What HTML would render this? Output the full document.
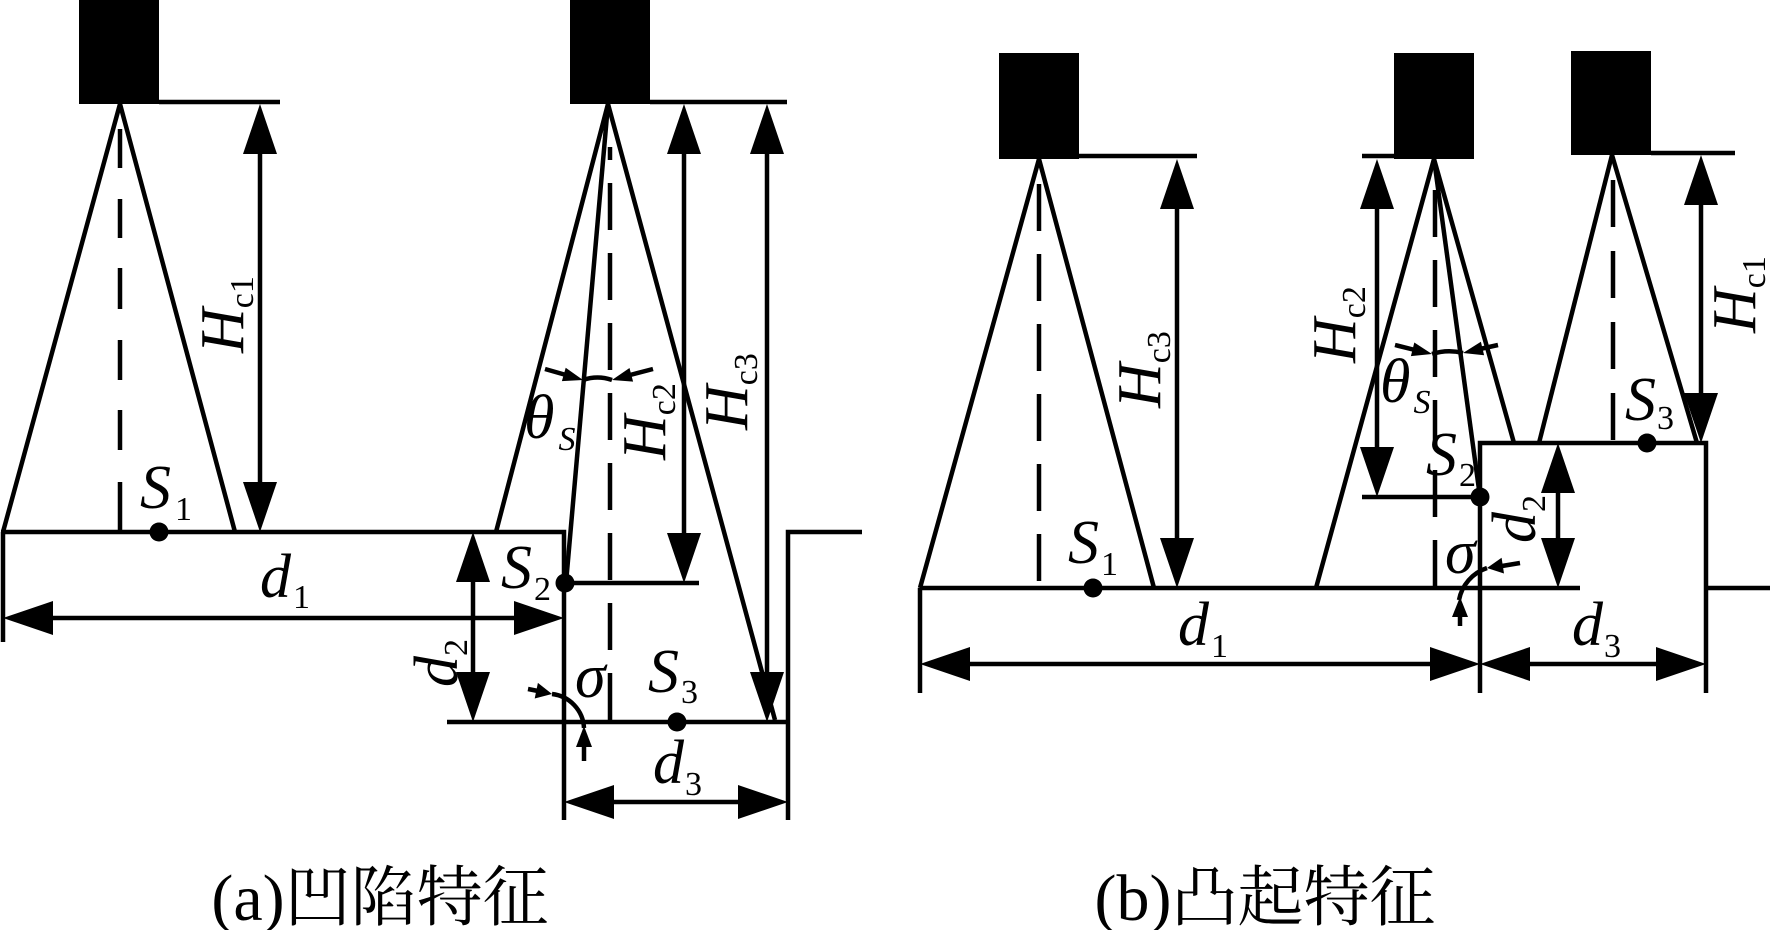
<!DOCTYPE html>
<html>
<head>
<meta charset="utf-8">
<style>
  html,body{margin:0;padding:0;background:#fff;}
  svg{display:block;}
  .l{stroke:#000;stroke-width:4.5;fill:none;stroke-linecap:butt;stroke-linejoin:miter;}
  .t{font-family:"Liberation Serif","Noto Serif CJK SC",serif;fill:#000;}
</style>
</head>
<body>
<svg width="1770" height="930" viewBox="0 0 1770 930" xmlns="http://www.w3.org/2000/svg">
<rect width="1770" height="930" fill="#fff"/>

<!-- ================= PANEL (a) ================= -->
<!-- sensors -->
<rect x="79" y="0" width="80" height="104" fill="#000"/>
<rect x="570" y="0" width="80" height="104" fill="#000"/>
<line class="l" x1="159" y1="102" x2="280" y2="102"/>
<line class="l" x1="650" y1="102" x2="787" y2="102"/>

<!-- cone 1 -->
<line class="l" x1="120" y1="104" x2="3" y2="532"/>
<line class="l" x1="120" y1="104" x2="235" y2="532"/>
<g class="l">
  <line x1="120" y1="129" x2="120" y2="168"/>
  <line x1="120" y1="199" x2="120" y2="238"/>
  <line x1="120" y1="268" x2="120" y2="309"/>
  <line x1="120" y1="340" x2="120" y2="380"/>
  <line x1="120" y1="410" x2="120" y2="450"/>
  <line x1="120" y1="482" x2="120" y2="532"/>
</g>

<!-- cone 2 -->
<line class="l" x1="608" y1="104" x2="496" y2="532"/>
<line class="l" x1="608" y1="104" x2="566" y2="583"/>
<line class="l" x1="608" y1="104" x2="775" y2="720"/>
<line class="l" x1="610" y1="147" x2="610" y2="722" stroke-dasharray="47 23" stroke-dashoffset="34"/>

<!-- ground profile -->
<polyline class="l" points="1,532 564,532 564,820"/>
<polyline class="l" points="788,820 788,532 862,532"/>
<line class="l" x1="447" y1="722" x2="788" y2="722"/>
<line class="l" x1="564" y1="583" x2="699" y2="583"/>
<line class="l" x1="3" y1="532" x2="3" y2="642"/>

<!-- H_c1 arrow -->
<line class="l" x1="260" y1="140" x2="260" y2="500"/>
<polygon points="260,104 243,154 277,154" fill="#000"/>
<polygon points="260,532 243,482 277,482" fill="#000"/>
<!-- H_c2 arrow -->
<line class="l" x1="684" y1="140" x2="684" y2="550"/>
<polygon points="684,104 667,154 701,154" fill="#000"/>
<polygon points="684,583 667,533 701,533" fill="#000"/>
<!-- H_c3 arrow -->
<line class="l" x1="767" y1="140" x2="767" y2="690"/>
<polygon points="767,104 750,154 784,154" fill="#000"/>
<polygon points="767,722 750,672 784,672" fill="#000"/>
<!-- d2 arrow -->
<line class="l" x1="473" y1="570" x2="473" y2="690"/>
<polygon points="473,532 456,582 490,582" fill="#000"/>
<polygon points="473,722 456,672 490,672" fill="#000"/>
<!-- d1 arrow -->
<line class="l" x1="40" y1="618" x2="530" y2="618"/>
<polygon points="3,618 53,601 53,635" fill="#000"/>
<polygon points="564,618 514,601 514,635" fill="#000"/>
<!-- d3 arrow -->
<line class="l" x1="600" y1="802" x2="750" y2="802"/>
<polygon points="564,802 614,785 614,819" fill="#000"/>
<polygon points="788,802 738,785 738,819" fill="#000"/>

<!-- theta_s arrows (a) -->
<line class="l" x1="545" y1="369" x2="566" y2="375"/>
<polygon points="583,380 561.9,381.1 565.7,367.7" fill="#000"/>
<line class="l" x1="653" y1="369" x2="630" y2="375"/>
<polygon points="612,380 629.5,368 633.1,381.6" fill="#000"/>
<path class="l" d="M583,380 Q597.5,375 612,380"/>

<!-- sigma (a) -->
<line class="l" x1="528" y1="689" x2="538" y2="691"/>
<polygon points="552,694 534.7,698.5 537.9,682.9" fill="#000"/>
<path class="l" d="M552,694 A36,36 0 0 1 584,728"/>
<polygon points="584,726 576,747 592,747" fill="#000"/>
<line class="l" x1="584" y1="745" x2="584" y2="761"/>

<!-- dots (a) -->
<circle cx="159" cy="532" r="9.5" fill="#000"/>
<circle cx="565" cy="583" r="9.5" fill="#000"/>
<circle cx="677" cy="722" r="9.5" fill="#000"/>

<!-- labels (a) -->
<text class="t" transform="translate(243,353) rotate(-90)" font-size="62" font-style="italic">H<tspan font-size="34" font-style="normal" dy="10">c1</tspan></text>
<text class="t" transform="translate(665,460) rotate(-90)" font-size="62" font-style="italic">H<tspan font-size="34" font-style="normal" dy="10">c2</tspan></text>
<text class="t" transform="translate(747,430) rotate(-90)" font-size="62" font-style="italic">H<tspan font-size="34" font-style="normal" dy="10">c3</tspan></text>
<text class="t" transform="translate(457,687) rotate(-90)" font-size="62" font-style="italic">d<tspan font-size="34" font-style="normal" dy="10">2</tspan></text>

<text class="t" x="140" y="508" font-size="62" font-style="italic">S<tspan font-size="34" font-style="normal" dx="4" dy="12">1</tspan></text>
<text class="t" x="501" y="588" font-size="62" font-style="italic">S<tspan font-size="34" font-style="normal" dx="2" dy="12">2</tspan></text>
<text class="t" x="648" y="692" font-size="62" font-style="italic">S<tspan font-size="34" font-style="normal" dx="2" dy="11">3</tspan></text>
<text class="t" x="260" y="597" font-size="62" font-style="italic">d<tspan font-size="34" font-style="normal" dx="2" dy="11">1</tspan></text>
<text class="t" x="653" y="783" font-size="62" font-style="italic">d<tspan font-size="34" font-style="normal" dx="1" dy="12">3</tspan></text>
<text class="t" x="575" y="697" font-size="62" font-style="italic">σ</text>
<text class="t" x="524" y="438" font-size="62" font-style="italic">θ<tspan font-size="34" dx="4" dy="12">S</tspan></text>

<!-- ================= PANEL (b) ================= -->
<rect x="999" y="53" width="80" height="106" fill="#000"/>
<rect x="1394" y="53" width="80" height="106" fill="#000"/>
<rect x="1571" y="51" width="80" height="104" fill="#000"/>
<line class="l" x1="1079" y1="156" x2="1197" y2="156"/>
<line class="l" x1="1362" y1="156" x2="1394" y2="156"/>
<line class="l" x1="1651" y1="153" x2="1735" y2="153"/>

<!-- cones -->
<line class="l" x1="1039" y1="159" x2="920" y2="588"/>
<line class="l" x1="1039" y1="159" x2="1154" y2="588"/>
<line class="l" x1="1039" y1="184" x2="1039" y2="588" stroke-dasharray="47 23"/>

<line class="l" x1="1434" y1="159" x2="1316" y2="588"/>
<line class="l" x1="1434" y1="159" x2="1480" y2="497"/>
<line class="l" x1="1434" y1="159" x2="1514" y2="443"/>
<line class="l" x1="1435" y1="190" x2="1435" y2="588" stroke-dasharray="47 23"/>

<line class="l" x1="1612" y1="155" x2="1539" y2="443"/>
<line class="l" x1="1612" y1="155" x2="1697" y2="443"/>
<line class="l" x1="1613" y1="180" x2="1613" y2="443" stroke-dasharray="47 24"/>

<!-- ground profile -->
<line class="l" x1="920" y1="588" x2="1580" y2="588"/>
<line class="l" x1="1706" y1="588" x2="1770" y2="588"/>
<polyline class="l" points="1480,693 1480,443 1706,443 1706,693"/>
<line class="l" x1="920" y1="588" x2="920" y2="693"/>
<line class="l" x1="1362" y1="497" x2="1480" y2="497"/>

<!-- H_c3 (b) -->
<line class="l" x1="1177" y1="195" x2="1177" y2="555"/>
<polygon points="1177,159 1160,209 1194,209" fill="#000"/>
<polygon points="1177,588 1160,538 1194,538" fill="#000"/>
<!-- H_c2 (b) -->
<line class="l" x1="1377" y1="195" x2="1377" y2="465"/>
<polygon points="1377,159 1360,209 1394,209" fill="#000"/>
<polygon points="1377,497 1360,447 1394,447" fill="#000"/>
<!-- H_c1 (b) -->
<line class="l" x1="1701" y1="190" x2="1701" y2="410"/>
<polygon points="1701,155 1684,205 1718,205" fill="#000"/>
<polygon points="1701,443 1684,393 1718,393" fill="#000"/>
<!-- d2 (b) -->
<line class="l" x1="1558" y1="480" x2="1558" y2="555"/>
<polygon points="1558,443 1541,493 1575,493" fill="#000"/>
<polygon points="1558,588 1541,538 1575,538" fill="#000"/>
<!-- d1 (b) -->
<line class="l" x1="955" y1="664" x2="1445" y2="664"/>
<polygon points="920,664 970,647 970,681" fill="#000"/>
<polygon points="1480,664 1430,647 1430,681" fill="#000"/>
<!-- d3 (b) -->
<line class="l" x1="1515" y1="664" x2="1670" y2="664"/>
<polygon points="1480,664 1530,647 1530,681" fill="#000"/>
<polygon points="1706,664 1656,647 1656,681" fill="#000"/>

<!-- theta_s arrows (b) -->
<line class="l" x1="1395" y1="345" x2="1415" y2="350"/>
<polygon points="1432,354 1410.9,356.1 1414.3,342.5" fill="#000"/>
<line class="l" x1="1498" y1="345" x2="1480" y2="349"/>
<polygon points="1463,353 1480.9,341.7 1484.1,355.3" fill="#000"/>
<path class="l" d="M1432,354 Q1447.5,349 1463,353"/>

<!-- sigma (b) -->
<line class="l" x1="1520" y1="563" x2="1502" y2="566"/>
<polygon points="1487,568 1501.6,557.7 1504,573.5" fill="#000"/>
<path class="l" d="M1487,568 A42,42 0 0 0 1459,600"/>
<polygon points="1460,597 1452,617 1468,617" fill="#000"/>
<line class="l" x1="1460" y1="614" x2="1460" y2="626"/>

<!-- dots (b) -->
<circle cx="1093" cy="588" r="9.5" fill="#000"/>
<circle cx="1480" cy="497" r="9.5" fill="#000"/>
<circle cx="1647" cy="443" r="9.5" fill="#000"/>

<!-- labels (b) -->
<text class="t" transform="translate(1160,408) rotate(-90)" font-size="62" font-style="italic">H<tspan font-size="34" font-style="normal" dy="10">c3</tspan></text>
<text class="t" transform="translate(1355,363) rotate(-90)" font-size="62" font-style="italic">H<tspan font-size="34" font-style="normal" dy="10">c2</tspan></text>
<text class="t" transform="translate(1755,333) rotate(-90)" font-size="62" font-style="italic">H<tspan font-size="34" font-style="normal" dy="10">c1</tspan></text>
<text class="t" transform="translate(1535,543) rotate(-90)" font-size="62" font-style="italic">d<tspan font-size="34" font-style="normal" dy="10">2</tspan></text>

<text class="t" x="1068" y="563" font-size="62" font-style="italic">S<tspan font-size="34" font-style="normal" dx="2" dy="12">1</tspan></text>
<text class="t" x="1426" y="475" font-size="62" font-style="italic">S<tspan font-size="34" font-style="normal" dx="2" dy="11">2</tspan></text>
<text class="t" x="1625" y="420" font-size="62" font-style="italic">S<tspan font-size="34" font-style="normal" dx="1" dy="9">3</tspan></text>
<text class="t" x="1178" y="645" font-size="62" font-style="italic">d<tspan font-size="34" font-style="normal" dx="2" dy="12">1</tspan></text>
<text class="t" x="1572" y="645" font-size="62" font-style="italic">d<tspan font-size="34" font-style="normal" dx="1" dy="12">3</tspan></text>
<text class="t" x="1445" y="573" font-size="62" font-style="italic">σ</text>
<text class="t" x="1380" y="402" font-size="62" font-style="italic">θ<tspan font-size="34" dx="3" dy="11">S</tspan></text>

<!-- captions -->
<text class="t" x="380" y="920" font-size="66" text-anchor="middle">(a)凹陷特征</text>
<text class="t" x="1265" y="920" font-size="66" text-anchor="middle">(b)凸起特征</text>
</svg>
</body>
</html>
